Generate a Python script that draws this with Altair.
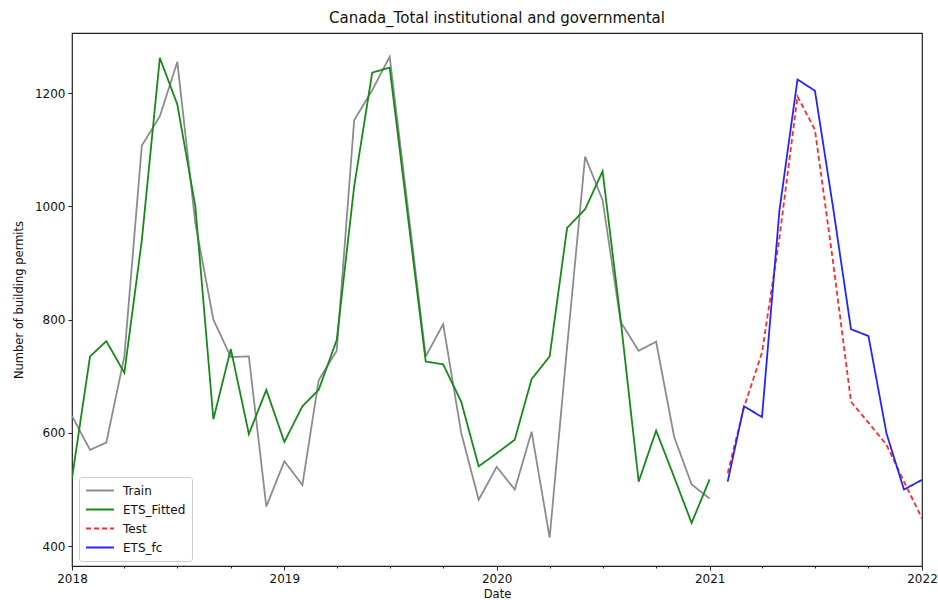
import altair as alt
import pandas as pd

# ---- data ----
train_start = "2018-01-01"
train_values = [630, 570, 583, 735, 1107, 1159, 1255, 970, 800, 734, 735, 470,
                550, 508, 693, 745, 1152, 1205, 1264, 1000, 735, 792, 600, 482,
                540, 500, 602, 415, 752, 1088, 1011, 796, 745, 761, 593, 509,
                484]
fitted_values = [520, 735, 762, 706, 940, 1262, 1180, 1000, 624, 748, 598, 676,
                 584, 647, 676, 764, 1035, 1236, 1245, 985, 726, 721, 655, 541,
                 564, 588, 695, 735, 962, 995, 1062, 800, 514, 604, 522, 441,
                 518]
test_start = "2021-02-01"
test_values = [529, 645, 742, 945, 1194, 1135, 903, 655, 618, 579, 514, 449]
fc_values = [514, 647, 628, 993, 1224, 1204, 999, 783, 771, 599, 500, 517]

series_names = ["Train", "ETS_Fitted", "Test", "ETS_fc"]
series_colors = ["#8c8c8c", "#168a16", "#ff2b2b", "#2424ff"]
series_dash = [[1, 0], [1, 0], [5, 3], [1, 0]]
year_ticks = [2018, 2019, 2020, 2021, 2022]

train_dates = pd.date_range(train_start, periods=len(train_values), freq="MS")
test_dates = pd.date_range(test_start, periods=len(test_values), freq="MS")

frames = []
for name, dates, vals in [("Train", train_dates, train_values),
                          ("ETS_Fitted", train_dates, fitted_values),
                          ("Test", test_dates, test_values),
                          ("ETS_fc", test_dates, fc_values)]:
    frames.append(pd.DataFrame({"series": name,
                                "date": dates.strftime("%Y-%m-%d"),
                                "value": vals}))
df = pd.concat(frames, ignore_index=True)

major_vals = [alt.DateTime(year=y, month=1, date=1, utc=True) for y in year_ticks]
minor_vals = [alt.DateTime(year=y, month=m, date=1, utc=True)
              for y in year_ticks[:-1] for m in (4, 7, 10)]

xscale = alt.Scale(type="utc",
                   domain=[alt.DateTime(year=2018, month=1, date=1, utc=True),
                           alt.DateTime(year=2022, month=1, date=1, utc=True)],
                   nice=False)
yscale = alt.Scale(domain=[365, 1306], nice=False, zero=False)

legend = alt.Legend(title=None, orient="none", legendX=7, legendY=444,
                    symbolType="stroke", symbolSize=780, clipHeight=15,
                    symbolStrokeWidth=2, labelFontSize=12, labelOffset=8,
                    rowPadding=4, padding=6,
                    strokeColor="#cccccc", fillColor="white",
                    cornerRadius=3, labelColor="#111111")

base = alt.Chart(df)

lines = base.mark_line(strokeWidth=1.8, clip=True).encode(
    x=alt.X("date:T", scale=xscale,
            axis=alt.Axis(values=major_vals, format="%Y", title="Date",
                          orient="bottom", grid=False, tickSize=4,
                          labelFlush=False, labelBound=False,
                          labelPadding=3, titlePadding=4, domain=False)),
    y=alt.Y("value:Q", scale=yscale,
            axis=alt.Axis(values=[400, 600, 800, 1000, 1200], grid=False,
                          format="d",
                          title="Number of building permits", tickSize=4,
                          labelPadding=3, titlePadding=10, domain=False)),
    color=alt.Color("series:N",
                    scale=alt.Scale(domain=series_names, range=series_colors),
                    legend=legend),
    strokeDash=alt.StrokeDash("series:N",
                              scale=alt.Scale(domain=series_names,
                                              range=series_dash),
                              legend=legend),
    order=alt.Order("date:T"),
    detail="series:N",
)

minor = alt.Chart(pd.DataFrame({"v": [0]})).mark_point(opacity=0).encode(
    x=alt.X("v:T", scale=xscale,
            axis=alt.Axis(values=minor_vals, labels=False, title=None,
                          orient="bottom", grid=False, tickSize=2,
                          domain=False)),
)

chart = alt.layer(lines, minor).resolve_axis(x="independent").properties(
    width=850, height=533,
    title=alt.TitleParams("Canada_Total institutional and governmental",
                          fontSize=15, fontWeight="normal", offset=7,
                          color="#111111"),
    autosize=alt.AutoSizeParams(type="none"),
    padding={"left": 72, "top": 33, "right": 16, "bottom": 34},
).configure_view(stroke="#222222", strokeWidth=1.2).configure_axis(
    labelFont="DejaVu Sans", titleFont="DejaVu Sans", labelFontSize=12,
    titleFontSize=11.5, labelColor="#111111", titleColor="#111111",
    tickColor="#222222", titleFontWeight="normal"
).configure_legend(labelFont="DejaVu Sans").configure_title(font="DejaVu Sans")

chart.save("out.html", embed_options={"renderer": "svg", "actions": False})
